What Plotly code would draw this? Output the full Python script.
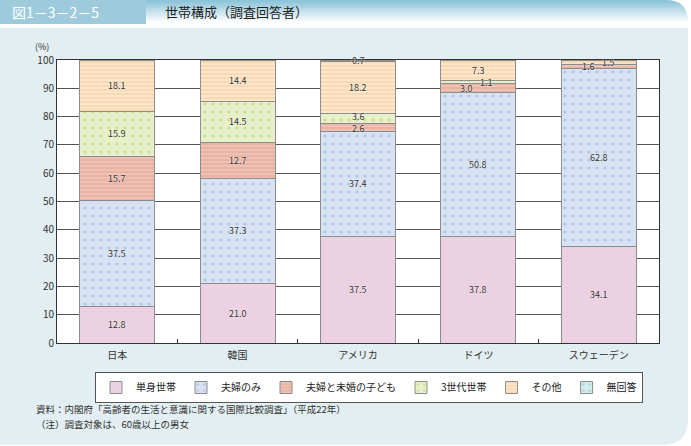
import plotly.graph_objects as go

categories = ["日本", "韓国", "アメリカ", "ドイツ", "スウェーデン"]
series_names = ["単身世帯", "夫婦のみ", "夫婦と未婚の子ども", "3世代世帯", "その他", "無回答"]
single = [12.8, 21.0, 37.5, 37.8, 34.1]
couple = [37.5, 37.3, 37.4, 50.8, 62.8]
couple_children = [15.7, 12.7, 2.6, 3.0, 1.6]
three_gen = [15.9, 14.5, 3.6, 1.1, 0.0]
other = [18.1, 14.4, 18.2, 7.3, 1.5]
no_answer = [0.0, 0.0, 0.7, 0.0, 0.0]
y_ticks = [0, 10, 20, 30, 40, 50, 60, 70, 80, 90, 100]

series_values = [single, couple, couple_children, three_gen, other, no_answer]

styles = [
    dict(color="#ebd1e1", shape="", fg="#ebd1e1", size=8, sol=0.2),
    dict(color="#d7e2f2", shape=".", fg="#8aa6dc", size=8, sol=0.12),
    dict(color="#e9b3a3", shape="-", fg="#f8e2da", size=4, sol=0.3),
    dict(color="#e7f0cb", shape=".", fg="#a9cc48", size=8, sol=0.12),
    dict(color="#fde6cc", shape="-", fg="#efb978", size=4, sol=0.3),
    dict(color="#d5ebec", shape=".", fg="#72b8bc", size=8, sol=0.12),
]
# label nudges (px) for crowded thin segments: (series index, category index)
label_xshift = {(2, 3): -12, (3, 3): 8, (2, 4): -10, (4, 4): 10}
label_yshift = {(2, 2): -1, (3, 2): 2}

W, H = 691, 446
L, R, T, B = 57, 659, 60, 343


def px(x):
    return (x - L) / (R - L)


def py(y):
    return (B - y) / (B - T)


fig = go.Figure()
for name, vals, st in zip(series_names, series_values, styles):
    fig.add_trace(go.Bar(
        name=name, x=categories, y=vals,
        marker=dict(color=st["color"], line=dict(color="#8c8c8c", width=1),
                    pattern=dict(shape=st["shape"], fgcolor=st["fg"], bgcolor=st["color"],
                                 size=st["size"], solidity=st["sol"])),
        hoverinfo="skip",
    ))

annotations = []
base = [0.0] * len(categories)
for i, vals in enumerate(series_values):
    for j, v in enumerate(vals):
        if v > 0:
            annotations.append(dict(
                x=categories[j], y=base[j] + v / 2, xref="x", yref="y",
                text=f"{v:.1f}", showarrow=False,
                xshift=label_xshift.get((i, j), 0), yshift=label_yshift.get((i, j), 0),
                font=dict(size=9, color="#333333", shadow="0px 0px 2px white"),
            ))
        base[j] += v

font_jp = "Noto Sans CJK JP"
annotations += [
    dict(x=px(42), y=py(46), xref="paper", yref="paper", xanchor="center", yanchor="middle",
         text="(%)", showarrow=False, font=dict(size=9, color="#333")),
    dict(x=px(10), y=py(12), xref="paper", yref="paper", xanchor="left", yanchor="middle",
         text="図1－3－2－5", showarrow=False, font=dict(size=14, color="white")),
    dict(x=px(163), y=py(12), xref="paper", yref="paper", xanchor="left", yanchor="middle",
         text="世帯構成（調査回答者）", showarrow=False, font=dict(size=13, color="#222")),
    dict(x=px(34), y=py(409.5), xref="paper", yref="paper", xanchor="left", yanchor="middle",
         text="資料：内閣府「高齢者の生活と意識に関する国際比較調査」（平成22年）",
         showarrow=False, font=dict(size=9.5, color="#333")),
    dict(x=px(34), y=py(423.5), xref="paper", yref="paper", xanchor="left", yanchor="middle",
         text="（注）調査対象は、60歳以上の男女",
         showarrow=False, font=dict(size=9.5, color="#333")),
]

shapes = []
# panel with rounded bottom-right corner
x0, x1, y0, y1, r = px(0), px(688), py(28), py(445), 26
shapes.append(dict(type="path", xref="paper", yref="paper", layer="below",
                   path=f"M {x0},{y0} L {x1},{y0} L {x1},{py(445 - r)} Q {x1},{y1} {px(688 - r)},{y1} L {x0},{y1} Z",
                   fillcolor="#e2eef1", line=dict(width=0)))
# header gradient band
n = 13
top_c = (140, 196, 217)
for k in range(n):
    t = k / (n - 1)
    c = tuple(int(top_c[m] + (255 - top_c[m]) * min(1, t * 1.15)) for m in range(3))
    shapes.append(dict(type="rect", xref="paper", yref="paper", layer="below",
                       x0=px(146), x1=px(688), y0=py(k * 2), y1=py(k * 2 + 2),
                       fillcolor=f"rgb{c}", line=dict(width=0)))
# rounded top-right corner mask
rr = 22
shapes.append(dict(type="path", xref="paper", yref="paper", layer="below",
                   path=f"M {px(688 - rr)},{py(0)} L {px(691)},{py(0)} L {px(691)},{py(26)} L {px(688)},{py(26)} L {px(688)},{py(rr)} Q {px(688)},{py(0)} {px(688 - rr)},{py(0)} Z",
                   fillcolor="white", line=dict(width=0)))
# label box
shapes.append(dict(type="rect", xref="paper", yref="paper", layer="below",
                   x0=px(0), x1=px(146), y0=py(0), y1=py(24),
                   fillcolor="#9dcbdc", line=dict(width=0)))
# white plot area
shapes.append(dict(type="rect", xref="paper", yref="paper", layer="below",
                   x0=0, x1=1, y0=0, y1=1, fillcolor="white", line=dict(width=0)))

fig.update_layout(
    width=W, height=H,
    margin=dict(l=L, r=W - R, t=T, b=H - B),
    paper_bgcolor="white", plot_bgcolor="rgba(0,0,0,0)",
    barmode="stack", bargap=0.377,
    font=dict(family=font_jp, size=10, color="#333"),
    showlegend=True,
    legend=dict(orientation="h", x=px(369), xanchor="center", y=py(372), yanchor="top",
                bgcolor="white", bordercolor="#555", borderwidth=1, traceorder="normal",
                font=dict(size=10, color="#222"), itemwidth=30, tracegroupgap=0),
    xaxis=dict(type="category", showline=True, linecolor="#333", mirror=True,
               ticks="inside", tickson="boundaries", ticklen=4, tickcolor="#333",
               showgrid=False, tickfont=dict(size=10), ticklabelstandoff=3),
    yaxis=dict(range=[0, 100], tickvals=y_ticks, showline=True, linecolor="#333", mirror=True,
               showgrid=True, gridcolor="#555", gridwidth=1, ticks="", zeroline=False,
               tickfont=dict(size=10)),
    annotations=annotations, shapes=shapes,
)

fig.write_html("out.html", config={"displayModeBar": False},
               post_script="document.body.style.margin='0';")
